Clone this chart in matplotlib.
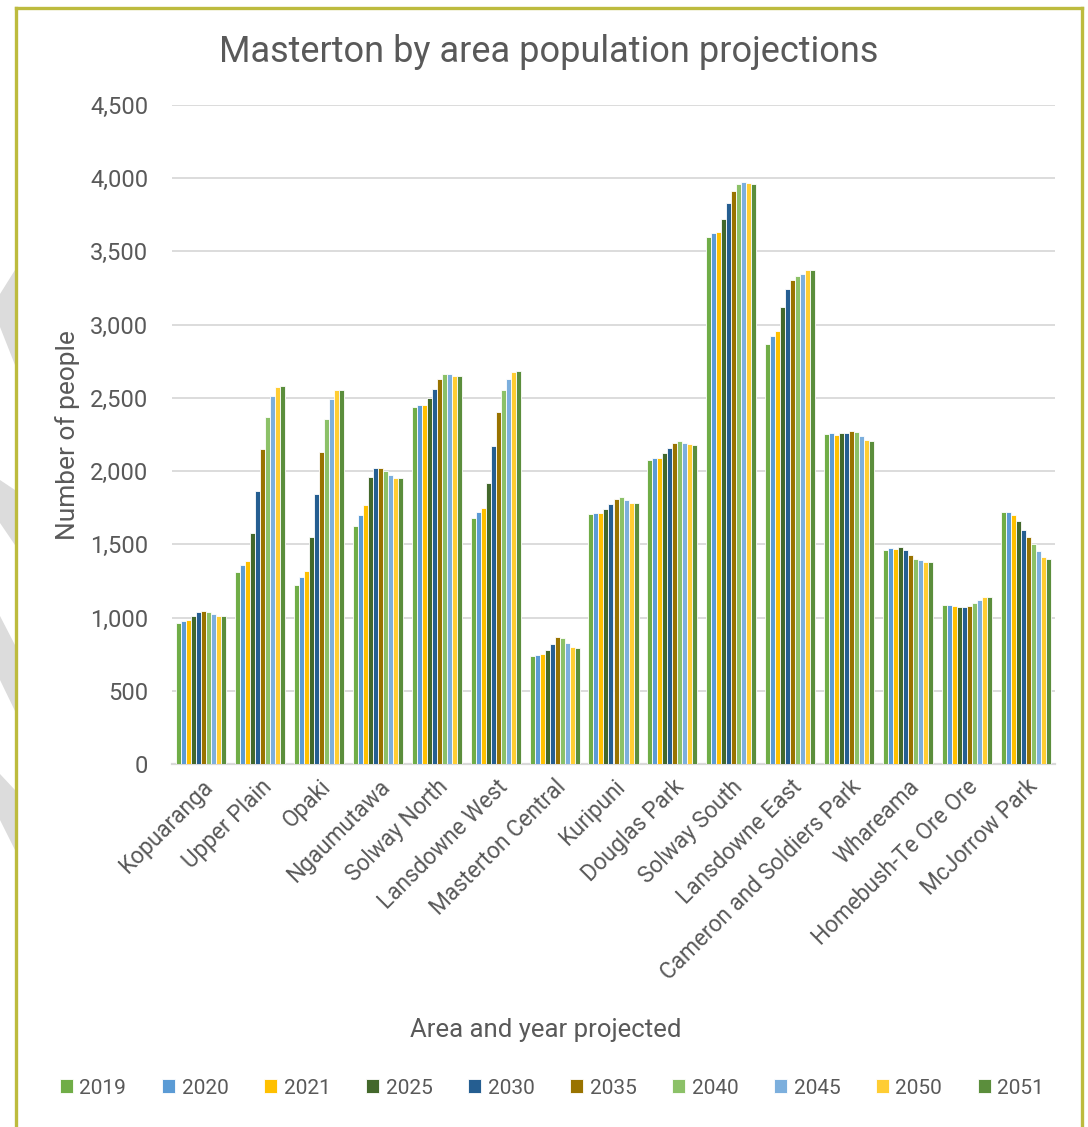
import matplotlib
matplotlib.use("Agg")
import matplotlib.pyplot as plt
import numpy as np
from matplotlib.lines import Line2D
from matplotlib.patches import Polygon

plt.rcParams['font.family'] = ['Roboto', 'DejaVu Sans']

areas = ["Kopuaranga", "Upper Plain", "Opaki", "Ngaumutawa", "Solway North",
         "Lansdowne West", "Masterton Central", "Kuripuni", "Douglas Park",
         "Solway South", "Lansdowne East", "Cameron and Soldiers Park",
         "Whareama", "Homebush-Te Ore Ore", "McJorrow Park"]
years = ["2019", "2020", "2021", "2025", "2030", "2035", "2040", "2045", "2050", "2051"]

kopuaranga = [962, 975, 982, 1014, 1041, 1046, 1037, 1025, 1014, 1012]
upper_plain = [1312, 1356, 1388, 1579, 1864, 2149, 2372, 2511, 2572, 2579]
opaki = [1221, 1276, 1321, 1552, 1843, 2128, 2354, 2493, 2552, 2556]
ngaumutawa = [1625, 1700, 1766, 1962, 2023, 2019, 2000, 1971, 1955, 1953]
solway_north = [2436, 2454, 2454, 2502, 2561, 2632, 2664, 2662, 2650, 2648]
lansdowne_west = [1679, 1718, 1748, 1921, 2169, 2402, 2555, 2632, 2675, 2682]
masterton_central = [738, 746, 749, 776, 819, 865, 859, 827, 800, 792]
kuripuni = [1705, 1716, 1714, 1741, 1776, 1811, 1822, 1805, 1784, 1781]
douglas_park = [2076, 2089, 2089, 2124, 2157, 2189, 2203, 2195, 2184, 2181]
solway_south = [3600, 3627, 3632, 3724, 3832, 3916, 3962, 3976, 3965, 3962]
lansdowne_east = [2870, 2924, 2959, 3122, 3241, 3305, 3332, 3349, 3370, 3373]
cameron_soldiers = [2251, 2257, 2246, 2257, 2259, 2273, 2270, 2243, 2214, 2205]
whareama = [1462, 1472, 1467, 1481, 1462, 1426, 1403, 1390, 1376, 1376]
homebush = [1089, 1089, 1080, 1075, 1073, 1082, 1100, 1118, 1137, 1137]
mcjorrow = [1724, 1718, 1699, 1656, 1597, 1549, 1503, 1456, 1412, 1403]

values = np.array([kopuaranga, upper_plain, opaki, ngaumutawa, solway_north,
                   lansdowne_west, masterton_central, kuripuni, douglas_park,
                   solway_south, lansdowne_east, cameron_soldiers, whareama,
                   homebush, mcjorrow])

colors = ["#70AD47", "#5B9BD5", "#FFC000", "#43682B", "#255E91",
          "#997300", "#8CC168", "#7CAFDD", "#FFCD33", "#5B8E3C"]

yticks = [0, 500, 1000, 1500, 2000, 2500, 3000, 3500, 4000, 4500]
ytick_labels = ["0", "500", "1,000", "1,500", "2,000", "2,500", "3,000", "3,500", "4,000", "4,500"]

W, H = 1088, 1127
fig = plt.figure(figsize=(W / 100, H / 100), dpi=100)

# background watermark stripes on the left
stripes = [
    [(0, 294), (15, 270), (15, 365), (0, 327)],
    [(0, 480), (15, 490), (15, 545), (0, 523)],
    [(0, 616), (15, 645), (15, 711), (0, 680)],
    [(0, 774), (15, 790), (15, 850), (0, 820)],
]
for s in stripes:
    fig.patches.append(Polygon([(x / W, 1 - y / H) for x, y in s], closed=True,
                               transform=fig.transFigure, facecolor="#DCDCDC",
                               edgecolor="none", zorder=0))

# chart border
bc = "#BDBB3E"
lw = 2.4
fig.lines.append(Line2D([16 / W, 16 / W], [0, 1 - 8 / H], transform=fig.transFigure, color=bc, lw=lw))
fig.lines.append(Line2D([16 / W, 1082 / W], [1 - 8 / H, 1 - 8 / H], transform=fig.transFigure, color=bc, lw=lw))
fig.lines.append(Line2D([1082 / W, 1082 / W], [0, 1 - 8 / H], transform=fig.transFigure, color=bc, lw=lw))

ax = fig.add_axes([172 / W, 1 - 764 / H, (1055 - 172) / W, (764 - 105) / H])

n = len(years)
group = 0.85
bw = group / n
x = np.arange(len(areas))
for i, yr in enumerate(years):
    ax.bar(x - group / 2 + bw * (i + 0.5), values[:, i], width=bw, color=colors[i],
           edgecolor="white", linewidth=0.6, label=yr, zorder=3)

ax.set_xlim(-0.5, len(areas) - 0.5)
ax.set_ylim(0, 4500)
ax.set_yticks(yticks)
ax.set_yticklabels(ytick_labels)
ax.set_xticks(x)
ax.set_xticklabels(areas, rotation=45, ha="right", va="top", rotation_mode="anchor")
ax.yaxis.grid(True, color="#D9D9D9", linewidth=1.3, zorder=0)
ax.set_axisbelow(True)
for sp in ["top", "right", "left"]:
    ax.spines[sp].set_visible(False)
ax.spines["bottom"].set_color("#D9D9D9")
ax.spines["bottom"].set_linewidth(1.6)
tc = "#595959"
ax.tick_params(axis="both", length=0, colors=tc)
ax.tick_params(axis="y", labelsize=17, pad=17)
ax.tick_params(axis="x", labelsize=16.3, pad=8)

fig.text(549 / W, 1 - 52 / H, "Masterton by area population projections", ha="center",
         va="center", fontsize=26, color=tc)
fig.text(546 / W, 1 - 1030 / H, "Area and year projected", ha="center", va="center",
         fontsize=18.5, color=tc)
fig.text(68 / W, 1 - 435 / H, "Number of people", ha="center", va="center",
         rotation=90, fontsize=19, color=tc)

handles, labels = ax.get_legend_handles_labels()
fig.legend(handles, labels, loc="center", bbox_to_anchor=(552 / W, 1 - 1088 / H),
           ncol=10, frameon=False, fontsize=15, labelcolor=tc,
           handlelength=0.65, handleheight=0.65, handletextpad=0.3,
           columnspacing=1.7)

fig.savefig("out.png", dpi=100, facecolor="white")
